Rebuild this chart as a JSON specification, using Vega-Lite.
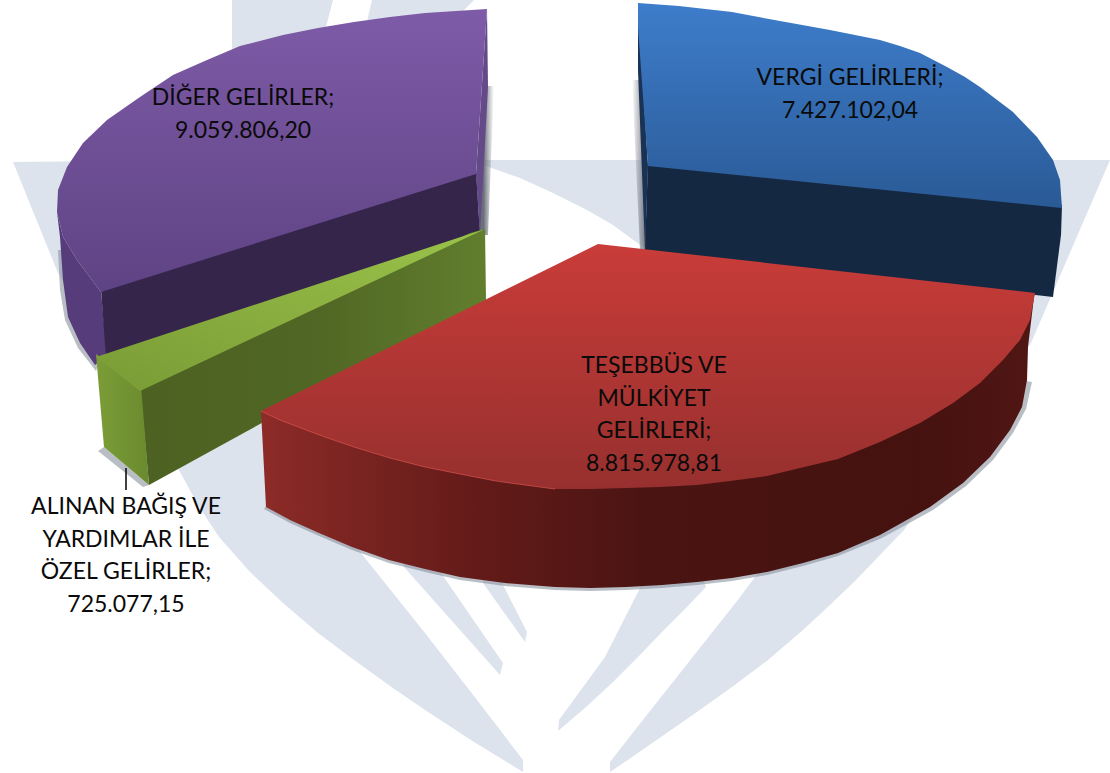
{"$schema":"https://vega.github.io/schema/vega-lite/v6.json","width":1110,"height":773,"autosize":{"type":"fit","contains":"padding"},"padding":0,"background":"#ffffff","view":{"stroke":null},
"encoding":{"x":{"field":"x","type":"quantitative","scale":{"domain":[0,1110],"nice":false,"zero":false},"axis":null},"y":{"field":"y","type":"quantitative","scale":{"domain":[773,0],"nice":false,"zero":false},"axis":null},"order":{"value":null}},
"layer":[
{"data":{"values":[
{"s":"W1","x":200,"y":160},{"s":"W1","x":1110,"y":160},{"s":"W1","x":1031,"y":343},{"s":"W1","x":904,"y":530},{"s":"W1","x":880,"y":555},{"s":"W1","x":856,"y":580},{"s":"W1","x":830,"y":605},{"s":"W1","x":803,"y":630},{"s":"W1","x":768,"y":660},{"s":"W1","x":732,"y":687},{"s":"W1","x":697,"y":712},{"s":"W1","x":661,"y":737},{"s":"W1","x":635,"y":755},{"s":"W1","x":610,"y":772},{"s":"W1","x":610,"y":762},{"s":"W1","x":635,"y":730},{"s":"W1","x":661,"y":697},{"s":"W1","x":688,"y":663},{"s":"W1","x":714,"y":630},{"s":"W1","x":737,"y":601},{"s":"W1","x":758,"y":573},{"s":"W1","x":800,"y":500},{"s":"W1","x":800,"y":300},{"s":"W1","x":640,"y":245},{"s":"W1","x":613,"y":225},{"s":"W1","x":587,"y":210},{"s":"W1","x":553,"y":193},{"s":"W1","x":520,"y":178},{"s":"W1","x":483,"y":165},{"s":"W1","x":400,"y":170},{"s":"W1","x":200,"y":200},
{"s":"W2","x":13,"y":162},{"s":"W2","x":58,"y":273},{"s":"W2","x":179,"y":470},{"s":"W2","x":198,"y":505},{"s":"W2","x":219,"y":537},{"s":"W2","x":250,"y":572},{"s":"W2","x":283,"y":603},{"s":"W2","x":318,"y":633},{"s":"W2","x":354,"y":660},{"s":"W2","x":390,"y":686},{"s":"W2","x":425,"y":710},{"s":"W2","x":474,"y":742},{"s":"W2","x":523,"y":772},{"s":"W2","x":523,"y":760},{"s":"W2","x":474,"y":696},{"s":"W2","x":425,"y":633},{"s":"W2","x":393,"y":593},{"s":"W2","x":361,"y":553},{"s":"W2","x":300,"y":470},{"s":"W2","x":200,"y":160},
{"s":"A","x":404,"y":567},{"s":"A","x":500,"y":675},{"s":"A","x":503,"y":663},{"s":"A","x":441,"y":573},{"s":"A","x":440,"y":540},{"s":"A","x":400,"y":540},
{"s":"B","x":483,"y":583},{"s":"B","x":525,"y":642},{"s":"B","x":527,"y":632},{"s":"B","x":503,"y":585},{"s":"B","x":503,"y":570},{"s":"B","x":483,"y":570},
{"s":"C","x":640,"y":588},{"s":"C","x":605,"y":657},{"s":"C","x":559,"y":720},{"s":"C","x":558,"y":731},{"s":"C","x":586,"y":707},{"s":"C","x":612,"y":683},{"s":"C","x":637,"y":658},{"s":"C","x":661,"y":633},{"s":"C","x":684,"y":610},{"s":"C","x":706,"y":587},{"s":"C","x":700,"y":570},{"s":"C","x":640,"y":570},
{"s":"T1","x":232,"y":0},{"s":"T1","x":333,"y":0},{"s":"T1","x":327,"y":23},{"s":"T1","x":320,"y":50},{"s":"T1","x":232,"y":60},
{"s":"T2","x":372,"y":0},{"s":"T2","x":474,"y":0},{"s":"T2","x":464,"y":10},{"s":"T2","x":460,"y":30},{"s":"T2","x":365,"y":30}
]},"mark":{"type":"line","fill":"#dde3ed","strokeWidth":0},"encoding":{"detail":{"field":"s"}}},

{"data":{"values":[{"x":632,"y":80},{"x":640,"y":80},{"x":647,"y":250},{"x":640,"y":250}]},"mark":{"type":"line","strokeWidth":0,"fill":{"gradient":"linear","x1":0,"y1":0,"x2":1,"y2":0,"stops":[{"offset":0,"color":"rgba(120,125,135,0)"},{"offset":0.5,"color":"rgba(120,125,135,0.55)"},{"offset":1,"color":"rgba(90,95,105,0.9)"}]}}},
{"data":{"values":[{"x":486,"y":86},{"x":494,"y":86},{"x":488,"y":235},{"x":479,"y":235}]},"mark":{"type":"line","strokeWidth":0,"fill":{"gradient":"linear","x1":0,"y1":0,"x2":1,"y2":0,"stops":[{"offset":0.3,"color":"rgba(90,95,105,0.9)"},{"offset":1,"color":"rgba(120,125,135,0)"}]}}},
{"data":{"values":[
{"s":"c","x":98,"y":451},{"s":"c","x":104,"y":447},{"s":"c","x":149,"y":485},{"s":"c","x":143,"y":487},
{"s":"d","x":58,"y":250},{"s":"d","x":60,"y":290},{"s":"d","x":65,"y":320},{"s":"d","x":78,"y":348},{"s":"d","x":96,"y":371},{"s":"d","x":100,"y":360},{"s":"d","x":70,"y":250},
{"s":"e","x":264,"y":509},{"s":"e","x":290,"y":523},{"s":"e","x":319,"y":536},{"s":"e","x":352,"y":550},{"s":"e","x":389,"y":563},{"s":"e","x":425,"y":572},{"s":"e","x":460,"y":580},{"s":"e","x":505,"y":586},{"s":"e","x":555,"y":590},{"s":"e","x":590,"y":591},{"s":"e","x":626,"y":590},{"s":"e","x":662,"y":588},{"s":"e","x":697,"y":585},{"s":"e","x":732,"y":581},{"s":"e","x":767,"y":575},{"s":"e","x":803,"y":566},{"s":"e","x":838,"y":556},{"s":"e","x":882,"y":538},{"s":"e","x":933,"y":510},{"s":"e","x":966,"y":486},{"s":"e","x":993,"y":460},{"s":"e","x":1013,"y":433},{"s":"e","x":1026,"y":409},{"s":"e","x":1032,"y":382},{"s":"e","x":1020,"y":380},{"s":"e","x":900,"y":500},{"s":"e","x":555,"y":570},{"s":"e","x":270,"y":500}
]},"mark":{"type":"line","fill":"#8a919c","fillOpacity":0.6,"strokeWidth":0},"encoding":{"detail":{"field":"s"}}},

{"data":{"values":[{"x":57,"y":212},{"x":63,"y":237},{"x":77,"y":260},{"x":101,"y":292},{"x":107,"y":355},{"x":95,"y":365},{"x":80,"y":343},{"x":68,"y":317},{"x":63,"y":280},{"x":60,"y":237}]},"mark":{"type":"line","fill":"#563c7a","strokeWidth":0}},
{"data":{"values":[{"x":487,"y":9},{"x":488,"y":87},{"x":480,"y":235},{"x":476,"y":174}]},"mark":{"type":"line","fill":"#654a8a","strokeWidth":0}},
{"data":{"values":[{"x":101,"y":289},{"x":476,"y":171},{"x":480,"y":235},{"x":106,"y":358}]},"mark":{"type":"line","fill":"#35254a","strokeWidth":0}},
{"data":{"values":[{"x":487,"y":9},{"x":456,"y":11},{"x":425,"y":13},{"x":390,"y":17},{"x":354,"y":22},{"x":318,"y":28},{"x":283,"y":35},{"x":240,"y":46},{"x":207,"y":60},{"x":173,"y":75},{"x":140,"y":97},{"x":107,"y":120},{"x":83,"y":143},{"x":67,"y":167},{"x":58,"y":190},{"x":57,"y":212},{"x":63,"y":237},{"x":77,"y":260},{"x":101,"y":292},{"x":476,"y":174}]},"mark":{"type":"line","strokeWidth":0,"fill":{"gradient":"linear","x1":0,"y1":0,"x2":0,"y2":1,"stops":[{"offset":0,"color":"#7e5ba7"},{"offset":1,"color":"#5e4384"}]}}},

{"data":{"values":[{"x":638,"y":3},{"x":648,"y":166},{"x":645,"y":250},{"x":638,"y":70}]},"mark":{"type":"line","fill":"#1a3354","strokeWidth":0}},
{"data":{"values":[{"x":648,"y":162},{"x":1062,"y":205},{"x":1061,"y":235},{"x":1053,"y":297},{"x":645,"y":250}]},"mark":{"type":"line","fill":"#152842","strokeWidth":0}},
{"data":{"values":[{"x":638,"y":3},{"x":679,"y":6},{"x":732,"y":12},{"x":780,"y":21},{"x":830,"y":30},{"x":880,"y":40},{"x":900,"y":46},{"x":920,"y":53},{"x":947,"y":67},{"x":965,"y":77},{"x":980,"y":87},{"x":1013,"y":112},{"x":1037,"y":137},{"x":1053,"y":160},{"x":1060,"y":180},{"x":1062,"y":208},{"x":648,"y":166},{"x":638,"y":27}]},"mark":{"type":"line","strokeWidth":0,"fill":{"gradient":"linear","x1":0,"y1":0,"x2":0,"y2":1,"stops":[{"offset":0,"color":"#3e7dcb"},{"offset":1,"color":"#2a5a96"}]}}},

{"data":{"values":[{"x":140,"y":387},{"x":470,"y":233},{"x":485,"y":229},{"x":486,"y":300},{"x":149,"y":485}]},"mark":{"type":"line","strokeWidth":0,"fill":{"gradient":"linear","x1":0,"y1":0,"x2":1,"y2":0,"stops":[{"offset":0,"color":"#4d6222"},{"offset":0.5,"color":"#506624"},{"offset":1,"color":"#617e2d"}]}}},
{"data":{"values":[{"x":96,"y":354},{"x":141,"y":386},{"x":149,"y":485},{"x":104,"y":447}]},"mark":{"type":"line","strokeWidth":0,"fill":{"gradient":"linear","x1":0,"y1":0,"x2":1,"y2":0,"stops":[{"offset":0,"color":"#7b9d37"},{"offset":1,"color":"#6b8a2f"}]}}},
{"data":{"values":[{"x":96,"y":357},{"x":485,"y":229},{"x":140,"y":391}]},"mark":{"type":"line","strokeWidth":0,"fill":{"gradient":"linear","x1":1,"y1":0,"x2":0,"y2":1,"stops":[{"offset":0,"color":"#9bc34a"},{"offset":1,"color":"#7a9b36"}]}}},

{"data":{"values":[{"x":261,"y":411},{"x":266,"y":507},{"x":290,"y":520},{"x":319,"y":533},{"x":352,"y":547},{"x":389,"y":560},{"x":425,"y":569},{"x":460,"y":577},{"x":505,"y":583},{"x":555,"y":587},{"x":590,"y":588},{"x":626,"y":587},{"x":662,"y":585},{"x":697,"y":582},{"x":732,"y":578},{"x":767,"y":572},{"x":803,"y":563},{"x":838,"y":553},{"x":880,"y":535},{"x":930,"y":507},{"x":963,"y":483},{"x":990,"y":457},{"x":1010,"y":430},{"x":1022,"y":407},{"x":1027,"y":380},{"x":1028,"y":347},{"x":1034,"y":297},{"x":1035,"y":293},{"x":900,"y":400},{"x":500,"y":440}]},"mark":{"type":"line","strokeWidth":0,"fill":{"gradient":"linear","x1":0,"y1":0,"x2":1,"y2":0,"stops":[{"offset":0,"color":"#8d2b28"},{"offset":0.12,"color":"#7a2421"},{"offset":0.27,"color":"#641b19"},{"offset":0.5,"color":"#4a1412"},{"offset":0.85,"color":"#451210"},{"offset":1,"color":"#501614"}]}}},
{"data":{"values":[{"x":598,"y":244},{"x":1035,"y":293},{"x":1030,"y":320},{"x":1020,"y":340},{"x":1003,"y":360},{"x":980,"y":383},{"x":953,"y":403},{"x":920,"y":423},{"x":880,"y":442},{"x":838,"y":459},{"x":800,"y":468},{"x":767,"y":476},{"x":730,"y":481},{"x":697,"y":485},{"x":660,"y":487},{"x":626,"y":488},{"x":590,"y":489},{"x":555,"y":489},{"x":525,"y":485},{"x":496,"y":481},{"x":460,"y":474},{"x":425,"y":467},{"x":390,"y":458},{"x":354,"y":447},{"x":325,"y":437},{"x":301,"y":428},{"x":280,"y":420},{"x":261,"y":411}]},"mark":{"type":"line","strokeWidth":0,"fill":{"gradient":"linear","x1":0,"y1":0,"x2":0,"y2":1,"stops":[{"offset":0,"color":"#c93c39"},{"offset":1,"color":"#96302e"}]}}},
{"data":{"values":[{"x":261,"y":411},{"x":280,"y":420},{"x":301,"y":428},{"x":325,"y":437},{"x":354,"y":447},{"x":390,"y":458},{"x":425,"y":467},{"x":460,"y":474},{"x":496,"y":481},{"x":525,"y":485},{"x":555,"y":489}]},"mark":{"type":"line","stroke":"#d9534f","strokeWidth":1,"opacity":0.7}},

{"data":{"values":[{"x":126,"y":468},{"x":126,"y":490}]},"mark":{"type":"line","stroke":"#000000","strokeWidth":1.5}},

{"data":{"values":[
{"category":"VERGİ GELİRLERİ","value":7427102.04,"label":"VERGİ GELİRLERİ;\n7.427.102,04","x":850,"y":78},
{"category":"TEŞEBBÜS VE MÜLKİYET GELİRLERİ","value":8815978.81,"label":"TEŞEBBÜS VE\nMÜLKİYET\nGELİRLERİ;\n8.815.978,81","x":654,"y":366},
{"category":"ALINAN BAĞIŞ VE YARDIMLAR İLE ÖZEL GELİRLER","value":725077.15,"label":"ALINAN BAĞIŞ VE\nYARDIMLAR İLE\nÖZEL GELİRLER;\n725.077,15","x":126,"y":507},
{"category":"DİĞER GELİRLER","value":9059806.20,"label":"DİĞER GELİRLER;\n9.059.806,20","x":243,"y":98}
]},"mark":{"type":"text","font":"Lato","fontSize":23,"lineBreak":"\n","lineHeight":32.7,"align":"center","baseline":"middle","color":"#0a0a0a"},"encoding":{"text":{"field":"label"}}}
]}
